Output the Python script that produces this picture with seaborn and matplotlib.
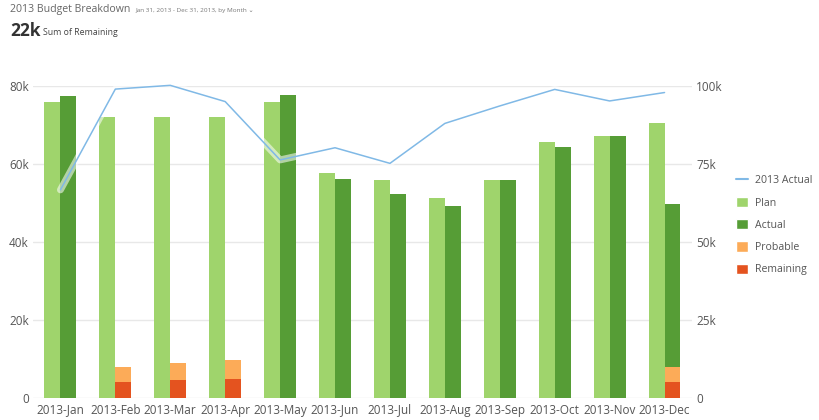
import pandas as pd
import matplotlib
matplotlib.use("Agg")
import matplotlib.pyplot as plt
import matplotlib.patheffects as pe
from matplotlib.lines import Line2D
from matplotlib.patches import Patch
import seaborn as sns
import numpy as np

# Values
months = ["2013-Jan", "2013-Feb", "2013-Mar", "2013-Apr", "2013-May", "2013-Jun",
          "2013-Jul", "2013-Aug", "2013-Sep", "2013-Oct", "2013-Nov", "2013-Dec"]
plan = [76000, 72100, 72100, 72100, 76000, 57600, 56000, 51200, 56000, 65600, 67300, 70400]
actual = [77500, 0, 0, 0, 77700, 56200, 52400, 49200, 55800, 64400, 67300, 41800]
probable = [0, 3800, 4400, 4800, 0, 0, 0, 0, 0, 0, 0, 3900]
remaining = [0, 4100, 4500, 4900, 0, 0, 0, 0, 0, 0, 0, 4000]
actual_2013 = [66700, 99000, 100200, 95000, 76300, 80200, 75200, 88000, 93600, 98900, 95200, 97900]

left_ticks = [0, 20000, 40000, 60000, 80000]
left_labels = ["0", "20k", "40k", "60k", "80k"]
right_ticks = [0, 25000, 50000, 75000, 100000]
right_labels = ["0", "25k", "50k", "75k", "100k"]

plan_color = "#9fd46c"
actual_color = "#569d36"
probable_color = "#fcab58"
remaining_color = "#e4531f"
line_color = "#80b9e6"
text_color = "#555555"

sns.set_style("white")
plt.rcParams["font.family"] = ["Open Sans", "DejaVu Sans"]

fig = plt.figure(figsize=(8.2, 4.2), dpi=100)
ax = fig.add_axes([0.0402, 0.0524, 0.8037, 0.7429])

# second bar of each month is a stack: remaining, probable, actual
stack_actual = np.array(actual) + np.array(probable) + np.array(remaining)
stack_probable = np.array(probable) + np.array(remaining)
stack_remaining = np.array(remaining)

layers = [
    (plan, stack_actual, actual_color),
    ([0] * 12, stack_probable, probable_color),
    ([0] * 12, stack_remaining, remaining_color),
]
for first, second, col in layers:
    df = pd.DataFrame({
        "month": months * 2,
        "value": list(first) + list(second),
        "kind": ["Plan"] * 12 + ["Second"] * 12,
    })
    sns.barplot(data=df, x="month", y="value", hue="kind", hue_order=["Plan", "Second"],
                palette={"Plan": plan_color, "Second": col}, width=0.58,
                saturation=1, legend=False, ax=ax, zorder=2, linewidth=0)

ax.set_xlim(-0.5, 11.5)
ax.set_ylim(0, 80000)
ax.set_yticks(left_ticks)
ax.set_yticklabels(left_labels)
ax.set_xlabel("")
ax.set_ylabel("")
ax.grid(axis="y", color="#e8e8e8", linewidth=1, zorder=0)
ax.set_axisbelow(True)
ax.tick_params(axis="both", length=0, labelsize=8.5, colors=text_color)
ax.tick_params(axis="y", pad=3)
ax.tick_params(axis="x", pad=4)
for s in ax.spines.values():
    s.set_visible(False)

ax2 = ax.twinx()
sns.lineplot(x=np.arange(12), y=actual_2013, ax=ax2, color=line_color, linewidth=1.1,
             clip_on=False, zorder=5,
             path_effects=[pe.Stroke(linewidth=5, foreground="white", alpha=0.55), pe.Normal()])
ax2.set_ylim(0, 100000)
ax2.set_yticks(right_ticks)
ax2.set_yticklabels(right_labels)
ax2.set_ylabel("")
ax2.tick_params(axis="y", length=0, labelsize=8.5, colors=text_color, pad=3)
ax2.grid(False)
for s in ax2.spines.values():
    s.set_visible(False)

handles = [
    Line2D([0], [0], color=line_color, linewidth=1.5),
    Patch(facecolor=plan_color),
    Patch(facecolor=actual_color),
    Patch(facecolor=probable_color),
    Patch(facecolor=remaining_color),
]
labels = ["2013 Actual", "Plan", "Actual", "Probable", "Remaining"]
leg = fig.legend(handles, labels, loc="upper left", bbox_to_anchor=(0.893, 0.594),
                 frameon=False, fontsize=7.6, handlelength=1.1, handleheight=1.1,
                 handletextpad=0.7, labelspacing=1.0, borderaxespad=0)
for t in leg.get_texts():
    t.set_color(text_color)

fig.text(0.012, 0.977, "2013 Budget Breakdown", fontsize=7.6, color="#666666", va="center")
fig.text(0.165, 0.976, "Jan 31, 2013 - Dec 31, 2013, by Month \u2304", fontsize=4.6, color="#777777",
         va="center")
fig.text(0.012, 0.927, "22k", fontsize=12.5, fontweight="bold", color="#333333", va="center")
fig.text(0.052, 0.922, "Sum of Remaining", fontsize=6.3, color="#444444", va="center")

fig.savefig("out.png", dpi=100)
